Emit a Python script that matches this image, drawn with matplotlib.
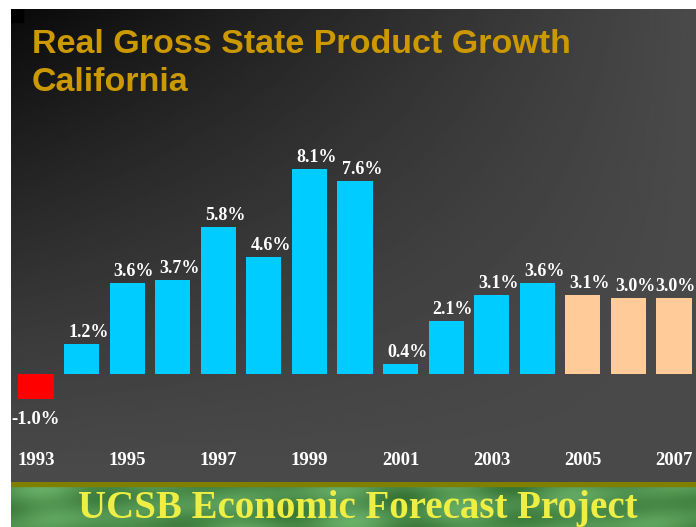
import matplotlib
matplotlib.use("Agg")
import matplotlib.pyplot as plt
import numpy as np

# data
years = list(range(1993, 2008))
growth = [-1.0, 1.2, 3.6, 3.7, 5.8, 4.6, 8.1, 7.6, 0.4, 2.1, 3.1, 3.6, 3.1, 3.0, 3.0]
labels = ["-1.0%", "1.2%", "3.6%", "3.7%", "5.8%", "4.6%", "8.1%", "7.6%",
          "0.4%", "2.1%", "3.1%", "3.6%", "3.1%", "3.0%", "3.0%"]
forecast_from = 2005
tick_years = [1993, 1995, 1997, 1999, 2001, 2003, 2005, 2007]

W, H = 696, 527
fig = plt.figure(figsize=(W / 100, H / 100), dpi=100)
fig.patch.set_facecolor("white")

serif = ["Liberation Serif", "DejaVu Serif"]
sans = ["Liberation Sans", "DejaVu Sans"]

# main panel (pixel geometry of the slide)
left, top, bottom = 11, 9, 483
ax = fig.add_axes([left / W, (H - bottom) / H, 1 - left / W, (bottom - top) / H])
x0, dx = 36, 45.57      # px of first bar centre, px per bar
y0, dy = 374, 25.35     # px of zero line, px per percent
xlim = ((left - x0) / dx, (W - x0) / dx)
ylim = ((y0 - bottom) / dy, (y0 - top) / dy)

# dark gradient background, darkest at top-left
gx = np.linspace(0, 1, 200)
gy = np.linspace(0, 1, 200)
GX, GY = np.meshgrid(gx, gy)
shade = 74 - 64 * (1 - GX) * (1 - GY) ** 1.2
ax.imshow(shade, cmap="gray", vmin=0, vmax=255, extent=(*xlim, *ylim), origin="upper",
          aspect="auto", zorder=0, interpolation="bilinear")
ax.add_patch(plt.Rectangle((0, 1 - 13 / (bottom - top)), 12 / (W - left), 13 / (bottom - top),
                           transform=ax.transAxes, color="black", zorder=1))
ax.set_xlim(*xlim)
ax.set_ylim(*ylim)
ax.axis("off")

pos = np.arange(len(years))
colors = []
for y, v in zip(years, growth):
    if v < 0:
        colors.append("#FF0000")
    elif y >= forecast_from:
        colors.append("#FFCC99")
    else:
        colors.append("#00CCFF")
ax.bar(pos, growth, width=0.77, color=colors, zorder=2)

for p, v, lab in zip(pos, growth, labels):
    if v >= 0:
        ax.text(min(p + 0.15, xlim[1] - 0.45), v + 0.12, lab, ha="center", va="bottom",
                color="white", fontsize=13, fontweight="bold", family=serif, zorder=3)
    else:
        ax.text(p, v - 0.45, lab, ha="center", va="top", color="white",
                fontsize=13.5, fontweight="bold", family=serif, zorder=3)

for ty in tick_years:
    ax.text(years.index(ty), -3.43, str(ty), ha="center", va="center", color="white",
            fontsize=13.5, fontweight="bold", family=serif, zorder=3)

# title
fig.text(32 / W, 1 - 53 / H, "Real Gross State Product Growth", color="#CC9900",
         fontsize=24.5, fontweight="bold", family=sans, va="baseline")
fig.text(32 / W, 1 - 91 / H, "California", color="#CC9900",
         fontsize=24.5, fontweight="bold", family=sans, va="baseline")

# green footer banner
bax = fig.add_axes([left / W, 0, 1 - left / W, (H - 482) / H])
bx = np.linspace(0, 1, 300)
by = np.linspace(0, 1, 40)
BX, BY = np.meshgrid(bx, by)
tex = 0.5 + 0.3 * np.sin(BX * 23 + BY * 3) * np.cos(BX * 9 - BY * 5) + 0.15 * np.sin(BX * 41)
tex = np.clip(tex, 0, 1)
green = np.stack([0.2 + 0.22 * tex, 0.44 + 0.26 * tex, 0.2 + 0.22 * tex], axis=-1)
bax.imshow(green, extent=(0, 1, 0, 1), aspect="auto", interpolation="bilinear")
bax.axhspan(0.91, 1.0, color="#7F7F00")
bax.set_xlim(0, 1)
bax.set_ylim(0, 1)
bax.axis("off")
fig.text(358 / W, 1 - 518 / H, "UCSB Economic Forecast Project", color="#EEEE44",
         fontsize=28, fontweight="bold", family=serif, ha="center", va="baseline")

fig.savefig("out.png", dpi=100, facecolor=fig.get_facecolor())
